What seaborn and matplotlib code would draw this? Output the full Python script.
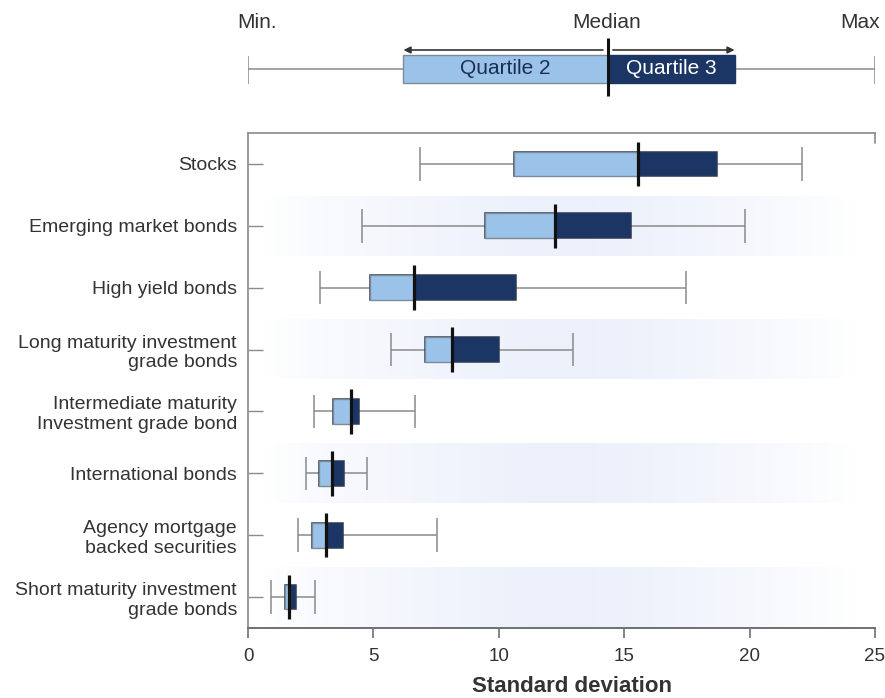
import numpy as np
import pandas as pd
import matplotlib
matplotlib.use("Agg")
import matplotlib.pyplot as plt
import seaborn as sns

# ---------------- data ----------------
categories = [
    "Stocks",
    "Emerging market bonds",
    "High yield bonds",
    "Long maturity investment\ngrade bonds",
    "Intermediate maturity\nInvestment grade bond",
    "International bonds",
    "Agency mortgage\nbacked securities",
    "Short maturity investment\ngrade bonds",
]
mins    = [6.85, 4.56, 2.89, 5.72, 2.63, 2.30, 2.01, 0.92]
q1s     = [10.61, 9.45, 4.88, 7.07, 3.39, 2.85, 2.57, 1.46]
medians = [15.55, 12.24, 6.63, 8.12, 4.11, 3.36, 3.11, 1.65]
q3s     = [18.71, 15.26, 10.69, 9.99, 4.41, 3.84, 3.79, 1.92]
maxs    = [22.10, 19.80, 17.46, 12.96, 6.64, 4.74, 7.54, 2.69]

x_ticks = [0, 5, 10, 15, 20, 25]
x_label = "Standard deviation"

# legend (schematic) values
leg_values = {"min": 0.0, "q1": 6.2, "median": 14.35, "q3": 19.4, "max": 25.0}
leg_texts = {"min": "Min.", "median": "Median", "max": "Max",
             "q2": "Quartile 2", "q3": "Quartile 3"}

# ---------------- style ----------------
LIGHT = "#9bc2e8"
DARK = "#1b3665"
GREY = "#8a8a8a"
TEXT = "#333333"
BAND = (0.925, 0.945, 0.985)

sns.set_theme(style="white")
plt.rcParams["font.family"] = ["Liberation Sans", "DejaVu Sans"]

# long-form table: five stats per category -> quartiles reproduce exactly
rows = []
for c, a, b, m, d, e in zip(categories, mins, q1s, medians, q3s, maxs):
    for v in (a, b, m, d, e):
        rows.append({"category": c, "value": v})
df = pd.DataFrame(rows)

W, H = 885, 698
fig = plt.figure(figsize=(W / 100, H / 100), dpi=100)

left, right = 248 / W, 875 / W
top, bottom = 1 - 133 / H, 1 - 628 / H
ax = fig.add_axes([left, bottom, right - left, top - bottom])

# background gradient bands on alternate rows
xs = np.linspace(0, 25, 400)
alpha = np.interp(xs, [0.6, 3.0, 12.0, 15.0, 20.0, 24.3], [0.0, 0.35, 1.0, 0.9, 0.5, 0.0])
grad = np.zeros((1, len(xs), 4))
grad[..., 0], grad[..., 1], grad[..., 2] = BAND
grad[..., 3] = alpha
for i in range(1, len(categories), 2):
    ax.imshow(grad, extent=(0, 25, i + 0.48, i - 0.48), aspect="auto",
              zorder=0, interpolation="bilinear")

box_w = 0.40
sns.boxplot(
    data=df, x="value", y="category", orient="h", order=categories,
    whis=np.inf, width=box_w, color=DARK, saturation=1, linecolor=GREY,
    linewidth=1.1, ax=ax,
    boxprops={"facecolor": DARK, "edgecolor": "#2a3a55", "zorder": 2},
    medianprops={"visible": False},
    capprops={"visible": False},
    whiskerprops={"color": GREY, "linewidth": 1.1, "zorder": 1},
)

pos = np.arange(len(categories))
# quartile 2 (light) segment
ax.barh(pos, np.array(medians) - np.array(q1s), left=q1s, height=box_w,
        color=LIGHT, edgecolor="#7d8a99", linewidth=1.0, zorder=3)
# caps
ax.vlines(mins, pos - 0.27, pos + 0.27, color=GREY, linewidth=1.1, zorder=2)
ax.vlines(maxs, pos - 0.27, pos + 0.27, color=GREY, linewidth=1.1, zorder=2)
# medians
ax.vlines(medians, pos - 0.36, pos + 0.36, color="#111111", linewidth=2.3, zorder=4)

ax.set_xlim(0, 25)
ax.set_ylim(len(categories) - 0.5, -0.5)
ax.set_xticks(x_ticks)
ax.set_xticklabels([str(t) for t in x_ticks])
ax.set_ylabel("")
ax.set_xlabel(x_label, fontsize=16, fontweight="bold", color=TEXT)
ax.xaxis.set_label_coords(0.517, -0.097)

for s in ["left", "top", "bottom"]:
    ax.spines[s].set_visible(True)
    ax.spines[s].set_color(GREY)
    ax.spines[s].set_linewidth(1.2)
ax.spines["right"].set_visible(False)
ax.spines["bottom"].set_color("#707070")
ax.spines["bottom"].set_linewidth(1.4)

ax.tick_params(axis="y", direction="in", length=11, width=1.0, color=GREY,
               pad=8, labelsize=14, labelcolor=TEXT, left=True)
ax.tick_params(axis="x", direction="out", length=7.5, width=1.2, color="#707070",
               pad=7, labelsize=13.5, labelcolor=TEXT, bottom=True)
# small mark at top-right corner
ax.plot([1, 1], [1, 0.98], transform=ax.transAxes, color=GREY, lw=1.2, clip_on=False)

# ---------------- schematic legend ----------------
lax = fig.add_axes([left, 1 - 120 / H, right - left, 120 / H])
lax.set_xlim(0, 25)
lax.set_ylim(120, 0)
lax.axis("off")
lv = leg_values
lax.hlines(69, lv["min"], lv["max"], color=GREY, lw=1.1, zorder=1)
lax.vlines([lv["min"], lv["max"]], 56, 84, color=GREY, lw=1.1, zorder=1)
lax.barh([69], [lv["median"] - lv["q1"]], left=[lv["q1"]], height=28,
         color=LIGHT, edgecolor="#7d8a99", lw=1.0, zorder=2)
lax.barh([69], [lv["q3"] - lv["median"]], left=[lv["median"]], height=28,
         color=DARK, edgecolor=DARK, lw=1.0, zorder=2)
lax.vlines([lv["median"]], 38, 96, color="#111111", lw=2.2, zorder=3)
arrow_kw = dict(arrowstyle="-|>", color="#333333", lw=1.2, mutation_scale=10,
                shrinkA=0, shrinkB=0)
lax.annotate("", xy=(lv["q1"], 50), xytext=(lv["median"] - 0.2, 50), arrowprops=arrow_kw)
lax.annotate("", xy=(lv["q3"], 50), xytext=(lv["median"] + 0.2, 50), arrowprops=arrow_kw)
lax.text(0.35, 22, leg_texts["min"], ha="center", va="center", fontsize=15, color=TEXT)
lax.text(lv["median"] - 0.05, 22, leg_texts["median"], ha="center", va="center", fontsize=15, color=TEXT)
lax.text(24.4, 22, leg_texts["max"], ha="center", va="center", fontsize=15, color=TEXT, clip_on=False)
lax.text((lv["q1"] + lv["median"]) / 2, 69, leg_texts["q2"], ha="center", va="center",
         fontsize=15, color="#1b2f55")
lax.text((lv["median"] + lv["q3"]) / 2, 69, leg_texts["q3"], ha="center", va="center",
         fontsize=15, color="white")

fig.savefig("out.png", dpi=100, facecolor="white")
